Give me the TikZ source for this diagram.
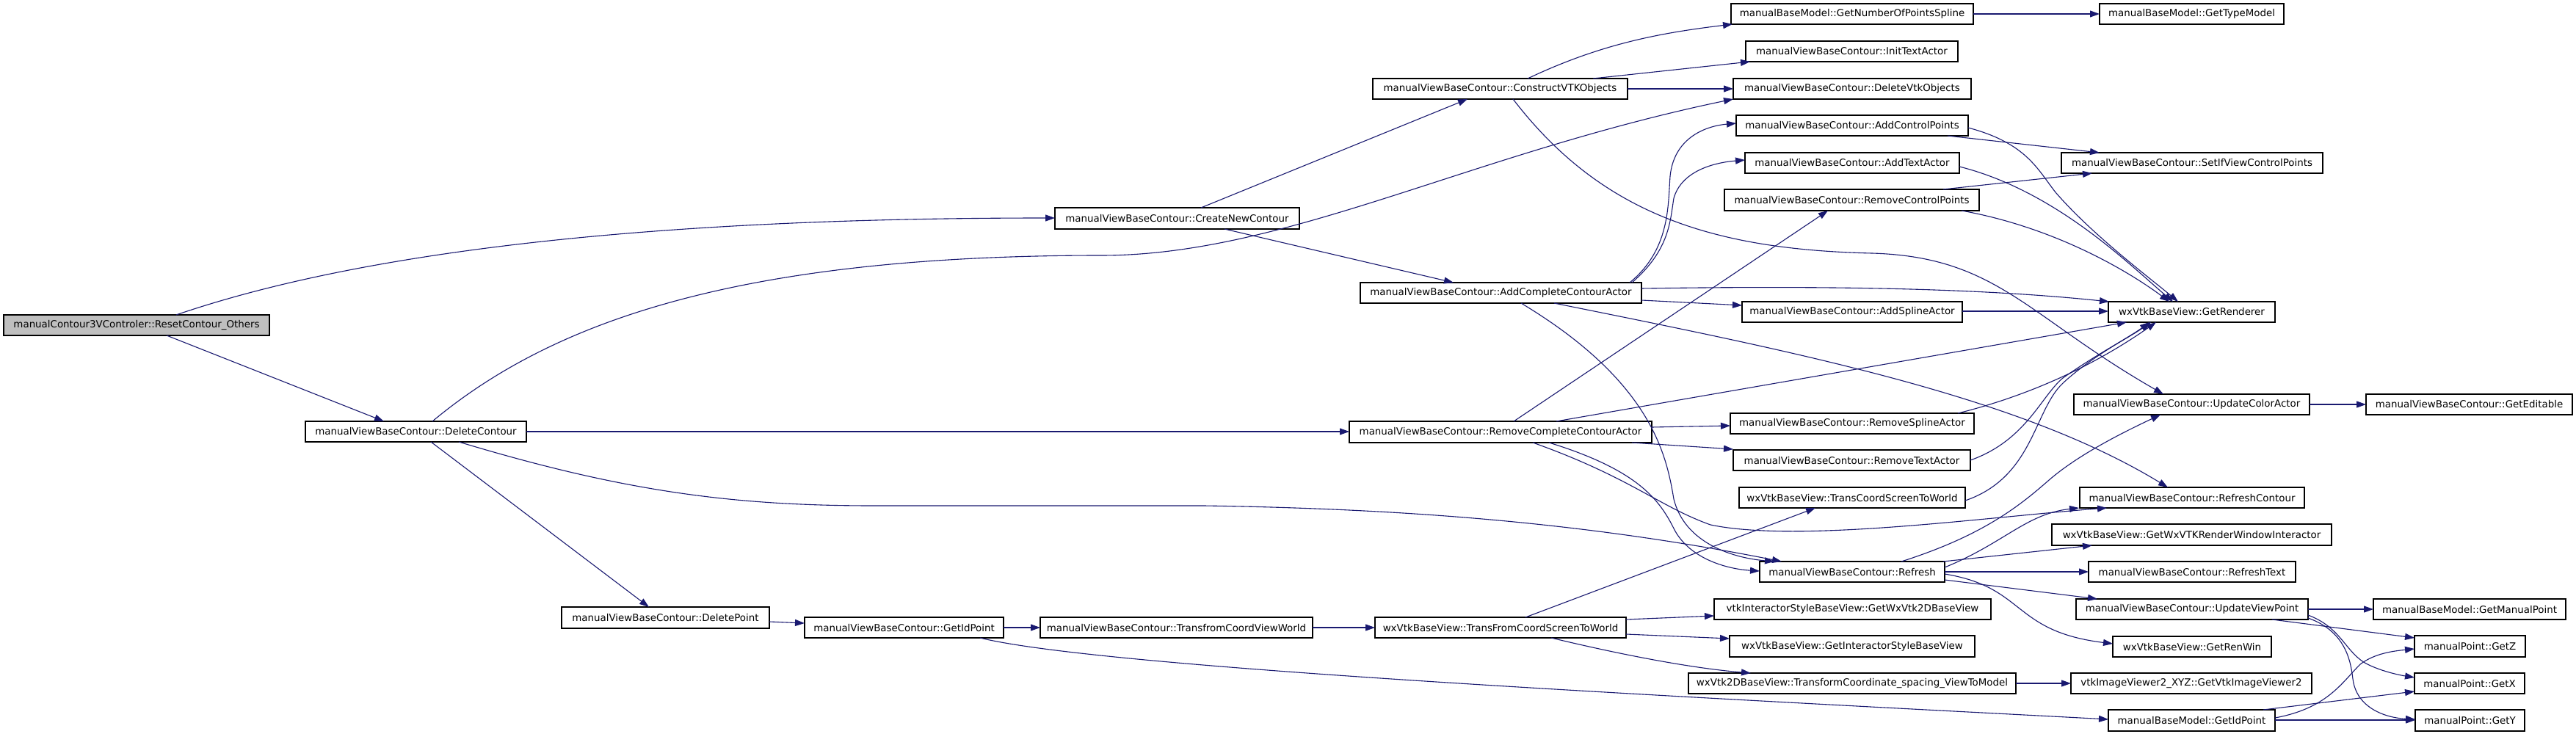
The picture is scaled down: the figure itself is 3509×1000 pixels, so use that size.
\documentclass[tikz,border=0pt]{standalone}
\usepackage{fontspec}
\setmainfont{DejaVu Sans}
\usetikzlibrary{arrows.meta,calc}
\definecolor{edgeblue}{HTML}{191970}
\definecolor{rootgray}{HTML}{BFBFBF}
\tikzset{
  box/.style={draw=black, line width=1.3pt, fill=white, inner sep=0pt, outer sep=0pt,
    font=\fontsize{13.4}{16}\selectfont, text=black},
  rootbox/.style={box, fill=rootgray},
  calledge/.style={draw=edgeblue, line width=1.1pt, -{Triangle[length=13pt,width=9pt]}},
}
% \bx[style]{name}{x1}{y1}{x2}{y2}{text}  (image pixel coordinates, y downwards)
\newcommand\bx[7][box]{%
  \expandafter\def\csname bxa@#2\endcsname{#3}%
  \expandafter\def\csname bxb@#2\endcsname{#4}%
  \node[#1, minimum width={(#5-#3)*1pt}, minimum height={(#6-#4)*1pt}] (#2)
    at ({(#3+#5)/2},{(#4+#6)/2}) {#7};}
% point on/near a node, given in image coordinates, expressed relative to the node
\newcommand\ep[3]{($(#1.north west)+({#2-\csname bxa@#1\endcsname},{#3-\csname bxb@#1\endcsname})$)}
\begin{document}
\begin{tikzpicture}[x=1pt,y=-1pt]
\useasboundingbox[fill=white] (0,0) rectangle (3509,1000);
% ---------------- nodes ----------------
\bx[rootbox]{root}{5}{429}{367}{457}{manualContour3VControler::ResetContour\_Others}
\bx{delc}{416}{574}{717}{602}{manualViewBaseContour::DeleteContour}
\bx{cnc}{1437}{283}{1770}{312}{manualViewBaseContour::CreateNewContour}
\bx{delp}{765}{827}{1048}{856}{manualViewBaseContour::DeletePoint}
\bx{gidp}{1096}{841}{1367}{869}{manualViewBaseContour::GetIdPoint}
\bx{tcvw}{1417}{841}{1788}{869}{manualViewBaseContour::TransfromCoordViewWorld}
\bx{cvtk}{1870}{107}{2217}{135}{manualViewBaseContour::ConstructVTKObjects}
\bx{acca}{1853}{385}{2236}{413}{manualViewBaseContour::AddCompleteContourActor}
\bx{rcca}{1838}{574}{2250}{603}{manualViewBaseContour::RemoveCompleteContourActor}
\bx{tfcs}{1873}{841}{2215}{869}{wxVtkBaseView::TransFromCoordScreenToWorld}
\bx{gnps}{2358}{5}{2688}{33}{manualBaseModel::GetNumberOfPointsSpline}
\bx{ita}{2378}{56}{2667}{84}{manualViewBaseContour::InitTextActor}
\bx{dvo}{2361}{107}{2685}{135}{manualViewBaseContour::DeleteVtkObjects}
\bx{acp}{2365}{157}{2681}{185}{manualViewBaseContour::AddControlPoints}
\bx{ata}{2377}{208}{2669}{236}{manualViewBaseContour::AddTextActor}
\bx{rcp}{2349}{258}{2696}{287}{manualViewBaseContour::RemoveControlPoints}
\bx{asa}{2373}{411}{2673}{439}{manualViewBaseContour::AddSplineActor}
\bx{rsa}{2357}{563}{2689}{591}{manualViewBaseContour::RemoveSplineActor}
\bx{rta}{2361}{613}{2684}{641}{manualViewBaseContour::RemoveTextActor}
\bx{tcsw}{2369}{664}{2677}{692}{wxVtkBaseView::TransCoordScreenToWorld}
\bx{refr}{2397}{765}{2649}{793}{manualViewBaseContour::Refresh}
\bx{gw2d}{2335}{816}{2712}{844}{vtkInteractorStyleBaseView::GetWxVtk2DBaseView}
\bx{gisb}{2356}{866}{2690}{895}{wxVtkBaseView::GetInteractorStyleBaseView}
\bx{tcsv}{2300}{917}{2746}{945}{wxVtk2DBaseView::TransformCoordinate\_spacing\_ViewToModel}
\bx{gtm}{2860}{5}{3111}{33}{manualBaseModel::GetTypeModel}
\bx{sivc}{2808}{208}{3164}{236}{manualViewBaseContour::SetIfViewControlPoints}
\bx{grnd}{2872}{411}{3099}{439}{wxVtkBaseView::GetRenderer}
\bx{uca}{2825}{537}{3146}{565}{manualViewBaseContour::UpdateColorActor}
\bx{rfc}{2833}{664}{3139}{692}{manualViewBaseContour::RefreshContour}
\bx{gwxi}{2795}{714}{3176}{743}{wxVtkBaseView::GetWxVTKRenderWindowInteractor}
\bx{rft}{2845}{765}{3127}{793}{manualViewBaseContour::RefreshText}
\bx{uvp}{2828}{816}{3144}{844}{manualViewBaseContour::UpdateViewPoint}
\bx{grw}{2878}{867}{3094}{895}{wxVtkBaseView::GetRenWin}
\bx{gviv}{2821}{917}{3149}{945}{vtkImageViewer2\_XYZ::GetVtkImageViewer2}
\bx{bgid}{2872}{967}{3099}{996}{manualBaseModel::GetIdPoint}
\bx{ged}{3223}{537}{3504}{565}{manualViewBaseContour::GetEditable}
\bx{gmp}{3233}{816}{3495}{844}{manualBaseModel::GetManualPoint}
\bx{gz}{3289}{866}{3440}{895}{manualPoint::GetZ}
\bx{gx}{3289}{917}{3439}{945}{manualPoint::GetX}
\bx{gy}{3290}{967}{3439}{996}{manualPoint::GetY}
% ---------------- connectors ----------------
\draw[calledge] \ep{root}{240}{429} .. controls (500,340) and (900,297) .. \ep{cnc}{1437}{297};
\draw[calledge] \ep{root}{227}{457} -- \ep{delc}{523}{574};
\draw[calledge] \ep{cnc}{1636}{283} -- \ep{cvtk}{1999}{135};
\draw[calledge] \ep{cnc}{1668}{312} -- \ep{acca}{1980}{385};
\draw[calledge] \ep{delc}{589}{574} .. controls (750,440) and (1000,348) .. (1500,348) .. controls (1750,348) and (2000,210) .. \ep{dvo}{2361}{135};
\draw[calledge] \ep{delc}{717}{588} -- \ep{rcca}{1838}{588};
\draw[calledge] \ep{delc}{587}{602} -- \ep{delp}{884}{827};
\draw[calledge] \ep{delc}{625}{602} .. controls (850,670) and (1000,689) .. (1190,689) -- (1640,689) .. controls (1900,693) and (2150,710) .. \ep{refr}{2427}{765};
\draw[calledge] \ep{delp}{1048}{847} -- \ep{gidp}{1096}{849};
\draw[calledge] \ep{gidp}{1367}{855} -- \ep{tcvw}{1417}{855};
\draw[calledge] \ep{tcvw}{1788}{855} -- \ep{tfcs}{1873}{855};
\draw[calledge] \ep{gidp}{1335}{869} .. controls (1500,910) and (2300,950) .. \ep{bgid}{2872}{980};
\draw[calledge] \ep{cvtk}{2081}{107} .. controls (2180,60) and (2260,45) .. \ep{gnps}{2360}{33};
\draw[calledge] \ep{cvtk}{2170}{107} -- \ep{ita}{2384}{84};
\draw[calledge] \ep{cvtk}{2217}{121} -- \ep{dvo}{2361}{121};
\draw[calledge] \ep{cvtk}{2061}{135} .. controls (2180,290) and (2330,340) .. (2550,345) .. controls (2720,350) and (2760,430) .. \ep{uca}{2947}{537};
\draw[calledge] \ep{gnps}{2688}{19} -- \ep{gtm}{2860}{19};
\draw[calledge] \ep{acca}{2220}{385} .. controls (2275,340) and (2272,280) .. (2275,240) .. controls (2280,190) and (2320,172) .. \ep{acp}{2365}{168};
\draw[calledge] \ep{acca}{2223}{385} .. controls (2275,340) and (2275,300) .. (2280,270) .. controls (2290,235) and (2330,222) .. \ep{ata}{2377}{218};
\draw[calledge] \ep{acca}{2236}{393} .. controls (2500,389) and (2700,393) .. \ep{grnd}{2873}{411};
\draw[calledge] \ep{acca}{2236}{409} -- \ep{asa}{2373}{416};
\draw[calledge] \ep{acca}{2117}{413} .. controls (2450,480) and (2750,540) .. \ep{rfc}{2953}{664};
\draw[calledge] \ep{acca}{2072}{413} .. controls (2250,520) and (2270,620) .. (2280,680) .. controls (2295,740) and (2360,760) .. \ep{refr}{2417}{765};
\draw[calledge] \ep{rcca}{2062}{574} -- \ep{rcp}{2490}{287};
\draw[calledge] \ep{rcca}{2120}{574} -- \ep{grnd}{2897}{439};
\draw[calledge] \ep{rcca}{2250}{582} -- \ep{rsa}{2357}{580};
\draw[calledge] \ep{rcca}{2223}{603} -- \ep{rta}{2361}{612};
\draw[calledge] \ep{rcca}{2088}{603} .. controls (2220,650) and (2260,690) .. (2330,715) .. controls (2450,740) and (2700,705) .. \ep{rfc}{2870}{692};
\draw[calledge] \ep{rcca}{2110}{603} .. controls (2230,640) and (2260,680) .. (2280,720) .. controls (2300,760) and (2350,775) .. \ep{refr}{2397}{778};
\draw[calledge] \ep{acp}{2653}{185} -- \ep{sivc}{2860}{208};
\draw[calledge] \ep{acp}{2681}{174} .. controls (2760,195) and (2775,230) .. (2800,262) .. controls (2850,320) and (2930,380) .. \ep{grnd}{2967}{411};
\draw[calledge] \ep{ata}{2669}{227} .. controls (2800,260) and (2900,360) .. \ep{grnd}{2960}{411};
\draw[calledge] \ep{rcp}{2647}{258} -- \ep{sivc}{2850}{236};
\draw[calledge] \ep{rcp}{2672}{287} .. controls (2800,310) and (2900,370) .. \ep{grnd}{2955}{411};
\draw[calledge] \ep{asa}{2673}{424} -- \ep{grnd}{2872}{424};
\draw[calledge] \ep{rsa}{2667}{563} .. controls (2760,540) and (2850,500) .. \ep{grnd}{2937}{439};
\draw[calledge] \ep{rta}{2684}{627} .. controls (2760,600) and (2780,540) .. (2810,515) .. controls (2860,480) and (2900,460) .. \ep{grnd}{2930}{439};
\draw[calledge] \ep{tcsw}{2677}{682} .. controls (2770,650) and (2770,560) .. (2810,522) .. controls (2850,485) and (2900,460) .. \ep{grnd}{2928}{439};
\draw[calledge] \ep{tfcs}{2078}{841} -- \ep{tcsw}{2473}{692};
\draw[calledge] \ep{tfcs}{2215}{844} -- \ep{gw2d}{2335}{839};
\draw[calledge] \ep{tfcs}{2215}{864} -- \ep{gisb}{2356}{870};
\draw[calledge] \ep{tfcs}{2113}{869} .. controls (2200,890) and (2300,910) .. \ep{tcsv}{2385}{917};
\draw[calledge] \ep{tcsv}{2746}{931} -- \ep{gviv}{2821}{931};
\draw[calledge] \ep{refr}{2590}{765} .. controls (2700,730) and (2750,690) .. (2790,655) .. controls (2830,620) and (2890,590) .. \ep{uca}{2943}{565};
\draw[calledge] \ep{refr}{2649}{773} .. controls (2730,740) and (2760,700) .. \ep{rfc}{2832}{692};
\draw[calledge] \ep{refr}{2647}{765} -- \ep{gwxi}{2850}{743};
\draw[calledge] \ep{refr}{2649}{779} -- \ep{rft}{2845}{779};
\draw[calledge] \ep{refr}{2649}{790} -- \ep{uvp}{2857}{816};
\draw[calledge] \ep{refr}{2649}{782} .. controls (2760,800) and (2740,860) .. \ep{grw}{2878}{877};
\draw[calledge] \ep{uca}{3146}{551} -- \ep{ged}{3223}{551};
\draw[calledge] \ep{uvp}{3144}{830} -- \ep{gmp}{3233}{830};
\draw[calledge] \ep{uvp}{3095}{844} -- \ep{gz}{3289}{869};
\draw[calledge] \ep{uvp}{3144}{838} .. controls (3190,855) and (3195,890) .. (3225,905) .. controls (3245,915) and (3270,920) .. \ep{gx}{3289}{923};
\draw[calledge] \ep{uvp}{3144}{842} .. controls (3195,860) and (3202,900) .. (3205,925) .. controls (3210,965) and (3250,978) .. \ep{gy}{3290}{980};
\draw[calledge] \ep{bgid}{3099}{978} .. controls (3170,965) and (3190,930) .. (3215,905) .. controls (3235,890) and (3260,887) .. \ep{gz}{3289}{884};
\draw[calledge] \ep{bgid}{3083}{967} -- \ep{gx}{3289}{942};
\draw[calledge] \ep{bgid}{3099}{981} -- \ep{gy}{3290}{981};
\end{tikzpicture}
\end{document}
